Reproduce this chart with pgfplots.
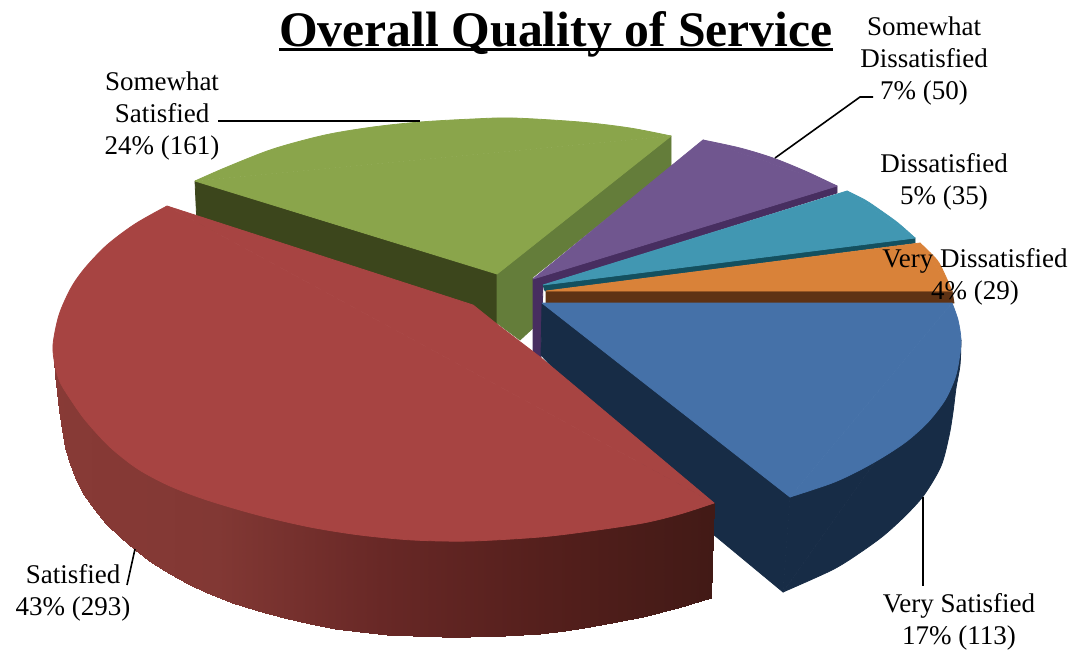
\documentclass[border=0pt]{standalone}
\usepackage{pgfplots}
\pgfplotsset{compat=1.18}
\usepackage{fontspec}
\setmainfont{Liberation Serif}
\definecolor{redtop}{RGB}{167,68,66}
\definecolor{greentop}{RGB}{138,165,75}
\definecolor{greenleft}{RGB}{60,70,28}
\definecolor{greenright}{RGB}{100,125,58}
\definecolor{purpletop}{RGB}{112,86,143}
\definecolor{purpleside}{RGB}{71,46,96}
\definecolor{tealtop}{RGB}{65,151,178}
\definecolor{tealside}{RGB}{20,80,95}
\definecolor{orangetop}{RGB}{217,130,57}
\definecolor{orangeside}{RGB}{94,50,20}
\definecolor{bluetop}{RGB}{69,113,168}
\definecolor{blueside}{RGB}{23,44,70}
\newcommand{\lab}{\fontsize{27}{32}\selectfont}
\begin{document}
\begin{tikzpicture}
\path[use as bounding box] (0,0) rectangle (1078pt,650pt);
\begin{axis}[
  at={(0,0)}, anchor=south west,
  scale only axis, width=1078pt, height=650pt,
  xmin=0, xmax=1078, ymin=0, ymax=650, y dir=reverse,
  hide axis, clip=false,
  colormap={sideshade}{rgb255=(136,58,54) rgb255=(130,56,52) rgb255=(104,40,38) rgb255=(84,31,28) rgb255=(66,26,22)},
  point meta min=50, point meta max=714,
  every axis plot/.append style={no markers, line join=round, line width=0.8pt},
]
% Each slice: straight-edged wedge plus a smooth cap along its rim.
% Somewhat Satisfied
\addplot[fill=greenleft, draw=greenleft] coordinates {(195,181)(497,273)(497,335)(197,225)(195,181)};
\addplot[fill=greenright, draw=greenright] coordinates {(497,274)(671,136)(671,167)(533,277)(533,328)(520,340)(497,323)(497,274)};
\addplot[fill=greentop, draw=greentop, smooth] coordinates {(195,181)(227,167)(273,149)(325,135)(373,127)(420,122)(473,119)(513,118)(580,122)(630,128)(671,136)};
\addplot[fill=greentop, draw=greentop] coordinates {(497,274)(195,181)(671,136)(497,274)};
% Somewhat Dissatisfied
\addplot[fill=purpleside, draw=purpleside] coordinates {(533,279)(837,186)(837,193)(543,285)(541,347)(541,358)(533,352)(533,279)};
\addplot[fill=purpletop, draw=purpletop, smooth] coordinates {(703,140)(740,148)(773,158)(805,171)(837,186)};
\addplot[fill=purpletop, draw=purpletop] coordinates {(533,279)(703,140)(837,186)(533,279)};
% Dissatisfied
\addplot[fill=tealside, draw=tealside] coordinates {(543,285)(915,238)(915,243)(545,291)(543,285)};
\addplot[fill=tealtop, draw=tealtop, smooth] coordinates {(847,191)(865,200)(880,210)(898,223)(915,238)};
\addplot[fill=tealtop, draw=tealtop] coordinates {(543,285)(847,191)(915,238)(543,285)};
% Very Dissatisfied
\addplot[fill=orangeside, draw=orangeside] coordinates {(546,291)(952,291)(954,303)(546,303)(546,291)};
\addplot[fill=orangetop, draw=orangetop, smooth] coordinates {(920,243)(937,260)(945,275)(952,291)};
\addplot[fill=orangetop, draw=orangetop] coordinates {(546,291)(920,243)(952,291)(546,291)};
% Very Satisfied
\addplot[fill=blueside, draw=blueside] coordinates {(542,303)(790,497)(783,592)(690,515)(541,355)(542,303)};
\addplot[fill=blueside, draw=blueside, smooth] coordinates {(961,340)(960,365)(956,388)(953,412)(949,436)(941,466)(924,495)(905,516)(883,536)(858,554)(832,570)(783,592)};
\addplot[fill=blueside, draw=blueside] coordinates {(790,497)(961,340)(783,592)(790,497)};
\addplot[fill=bluetop, draw=bluetop, smooth] coordinates {(952,303)(958,320)(961,340)(959,360)(955,378)(945,400)(928,422)(907,441)(883,457)(858,471)(832,483)(790,497)};
\addplot[fill=bluetop, draw=bluetop] coordinates {(542,303)(952,303)(790,497)(542,303)};
% Satisfied: rim shaded from left to right, then top
\addplot[surf, shader=interp, mesh/rows=2, point meta=explicit] table[meta=c] {
x y c
53 345 53
54 350 54
55 360 55
57 370 57
59 378 59
62 385 62
65 390 65
70 395 70
76 403 76
84 415 84
94 425 94
106 438 106
120 450 120
135 462 135
152 472 152
170 480 170
188 488 188
207 495 207
232 503 232
258 510 258
284 517 284
310 522 310
335 527 335
360 530 360
387 533 387
413 535 413
442 536 442
470 536 470
505 535 505
540 532 540
565 529 565
590 526 590
617 523 617
643 518 643
678 508 678
714 503 714
53 345 53
54 360 54
55 375 55
57 392 57
59 410 59
62 430 62
65 448 65
70 464 70
76 480 76
84 495 84
94 509 94
106 524 106
120 537 120
135 550 135
152 563 152
170 574 170
188 584 188
207 593 207
232 603 232
258 611 258
284 618 284
310 624 310
335 629 335
360 632 360
387 635 387
413 636 413
442 637 442
470 637 470
505 636 505
540 634 540
565 631 565
590 627 590
617 622 617
643 617 643
678 608 678
711 598 714
};
\addplot[fill=redtop, draw=redtop, smooth] coordinates {(714,503)(680,514)(643,523)(590,531)(540,537)(470,541)(413,540)(360,535)(310,527)(258,515)(207,500)(170,486)(138,469)(110,447)(86,421)(71,400)(60,382)(55,365)(53,345)(59,315)(71,288)(85,268)(107,245)(135,224)(167,206)};
\addplot[fill=redtop, draw=redtop] coordinates {(167,206)(473,305)(498,325)(540,357)(714,503)(167,206)};
% Leader lines
\draw[black, line width=1.6pt] (axis cs:218,121) -- (axis cs:420,121);
\draw[black, line width=1.6pt] (axis cs:775,158) -- (axis cs:860,97) -- (axis cs:873,97);
\draw[black, line width=1.6pt] (axis cs:923,497) -- (axis cs:923,586);
\draw[black, line width=1.6pt] (axis cs:135,549) -- (axis cs:127,585);
% Title
\node[font=\fontsize{49.7}{56}\selectfont\bfseries, anchor=base] at (axis cs:556,47) {Overall Quality of Service};
\draw[black, line width=3pt] (axis cs:279,50) -- (axis cs:833,50);
% Labels
\node[font=\lab, align=center] at (axis cs:162,116) {Somewhat\\Satisfied\\24\% (161)};
\node[font=\lab, align=center] at (axis cs:924,61) {Somewhat\\Dissatisfied\\7\% (50)};
\node[font=\lab, align=center] at (axis cs:944,182) {Dissatisfied\\5\% (35)};
\node[font=\lab, align=center] at (axis cs:975,277) {Very Dissatisfied\\4\% (29)};
\node[font=\lab, align=center] at (axis cs:73,593) {Satisfied\\43\% (293)};
\node[font=\lab, align=center] at (axis cs:959,622) {Very Satisfied\\17\% (113)};
\end{axis}
\end{tikzpicture}
\end{document}
